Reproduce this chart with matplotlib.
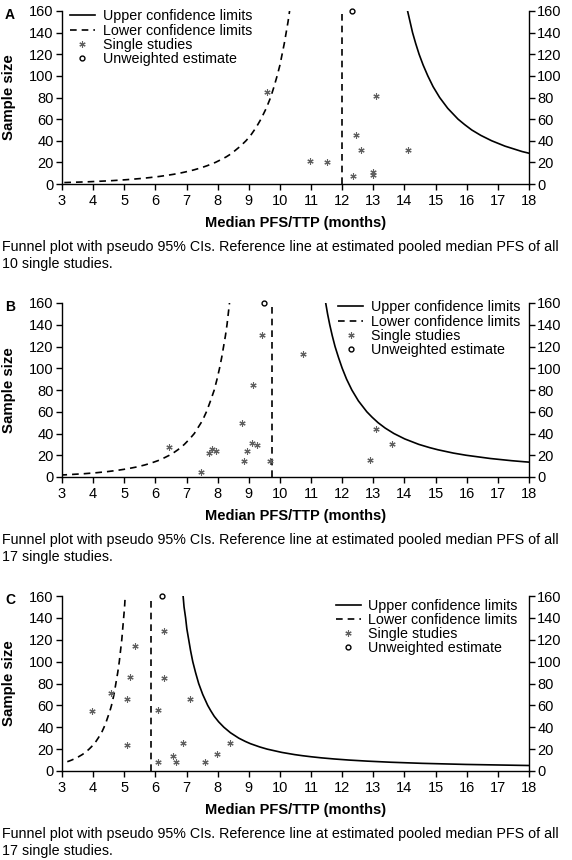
import matplotlib
matplotlib.use("Agg")
import matplotlib.pyplot as plt
from matplotlib.lines import Line2D

plt.rcParams['font.family'] = ['Liberation Sans', 'DejaVu Sans']

limit_n = [1, 2, 3, 4, 5, 6, 7, 8, 9, 10, 11, 12, 13, 14, 15, 17, 20, 22, 25, 27,
           30, 35, 40, 45, 50, 55, 60, 70, 80, 90, 100, 110, 120, 130, 140, 150, 160]

# Panel A (10 studies)
ref_a = 12.0
lower_a = [2.70, 3.81, 4.55, 5.08, 5.50, 5.84, 6.13, 6.37, 6.59, 6.78, 6.94, 7.09,
           7.23, 7.35, 7.47, 7.67, 7.93, 8.07, 8.27, 8.38, 8.52, 8.73, 8.91, 9.06,
           9.18, 9.29, 9.39, 9.56, 9.70, 9.81, 9.91, 10.00, 10.07, 10.14, 10.20,
           10.26, 10.31]
upper_a = [19.64, 19.15, 18.54, 18.21, 17.78, 17.23, 16.80, 16.45, 16.16, 15.93,
           15.72, 15.39, 15.13, 14.92, 14.75, 14.60, 14.47, 14.36, 14.26, 14.18, 14.10]
pfs_a = [9.6, 13.1, 12.45, 12.6, 14.1, 10.95, 11.5, 12.35, 13.0, 13.0]
size_a = [85, 81, 45, 31, 31, 21, 20, 7, 11, 8]
unweighted_a = (12.3, 160)

# Panel B (17 studies)
ref_b = 9.76
lower_b = [2.20, 3.10, 3.70, 4.13, 4.47, 4.75, 4.98, 5.18, 5.36, 5.51, 5.65, 5.77,
           5.88, 5.98, 6.08, 6.24, 6.45, 6.57, 6.72, 6.81, 6.93, 7.10, 7.25, 7.36,
           7.47, 7.56, 7.64, 7.77, 7.89, 7.98, 8.06, 8.13, 8.19, 8.25, 8.30, 8.34, 8.38]
upper_b = [18.89, 18.33, 17.85, 17.44, 16.76, 15.98, 15.57, 15.08, 14.81, 14.46,
           14.01, 13.66, 13.38, 13.15, 12.96, 12.79, 12.52, 12.31, 12.14, 12.00,
           11.88, 11.77, 11.68, 11.60, 11.53, 11.47]
pfs_b = [6.44, 7.45, 7.73, 7.83, 7.95, 8.77, 8.84, 8.94, 9.10, 9.26, 9.15,
         9.44, 9.68, 10.75, 13.07, 12.9, 13.6]
size_b = [28, 5, 22, 26, 24, 50, 15, 24, 31, 29, 85, 131, 15, 113, 44, 16, 30]
unweighted_b = (9.5, 160)

# Panel C (17 studies)
ref_c = 5.86
lower_c = [1.32, 1.86, 2.22, 2.48, 2.69, 2.85, 2.99, 3.11, 3.22, 3.31, 3.39, 3.46,
           3.53, 3.59, 3.65, 3.75, 3.87, 3.94, 4.04, 4.09, 4.16, 4.27, 4.35, 4.42,
           4.48, 4.54, 4.59, 4.67, 4.73, 4.79, 4.84, 4.88, 4.92, 4.95, 4.98, 5.01, 5.03]
upper_c = [21.51, 18.05, 15.97, 14.57, 13.57, 12.82, 12.22, 11.74, 11.34, 11.01,
           10.72, 10.47, 10.06, 9.59, 9.35, 9.05, 8.89, 8.68, 8.41, 8.20, 8.03, 7.89,
           7.78, 7.68, 7.52, 7.39, 7.29, 7.20, 7.13, 7.07, 7.01, 6.97, 6.92, 6.89]
pfs_c = [3.95, 4.57, 5.08, 5.17, 5.36, 5.08, 6.07, 6.07, 6.28, 6.28, 6.56,
         6.67, 6.88, 7.10, 7.59, 7.97, 8.39]
size_c = [55, 71, 66, 86, 114, 24, 56, 8, 128, 85, 14, 8, 26, 66, 8, 16, 26]
unweighted_c = (6.22, 160)

x_ticks = list(range(3, 19))
y_ticks = list(range(0, 161, 20))
xlabel = "Median PFS/TTP (months)"
caption_1 = "Funnel plot with pseudo 95% CIs. Reference line at estimated pooled median PFS of all"

W, H = 572, 860
fig = plt.figure(figsize=(W / 100, H / 100), dpi=100)

panels = [
    # letter, data, axes top px, axes bottom px, legend placement, n studies
    ("A", ref_a, lower_a, upper_a, pfs_a, size_a, unweighted_a, 11, 184,
     dict(loc="upper left", bbox_to_anchor=(0.017, 1.009)), 10),
    ("B", ref_b, lower_b, upper_b, pfs_b, size_b, unweighted_b, 303, 477,
     dict(loc="upper right", bbox_to_anchor=(0.982, 1.015)), 17),
    ("C", ref_c, lower_c, upper_c, pfs_c, size_c, unweighted_c, 596, 771,
     dict(loc="upper right", bbox_to_anchor=(0.976, 0.985)), 17),
]

left_px, right_px = 62, 529
dash = (4, 3)
star = dict(ls="none", marker=(6, 2, 0), ms=4.5, mew=0.8, color="#606060")
circ = dict(ls="none", marker="o", ms=3.5, mfc="none", mec="black", mew=1.0)

for letter, ref, lower, upper, pfs, size, unw, top_px, bot_px, leg, nstud in panels:
    ax = fig.add_axes([left_px / W, 1 - bot_px / H,
                       (right_px - left_px) / W, (bot_px - top_px) / H])

    ax.plot(upper, limit_n[-len(upper):], color="black", lw=1.2)
    ax.plot(lower, limit_n, color="black", lw=1.2, dashes=dash)
    ax.axvline(ref, color="black", lw=1.2, dashes=dash)
    ax.plot(pfs, size, **star)
    ax.plot([unw[0]], [unw[1]], clip_on=False, **circ)

    ax.set_xlim(3, 18)
    ax.set_ylim(0, 160)
    ax.set_xticks(x_ticks)
    ax.set_yticks(y_ticks)
    ax.spines["top"].set_visible(False)
    for s in ["left", "right", "bottom"]:
        ax.spines[s].set_linewidth(1.0)
    ax.tick_params(direction="out", length=4, width=1.0, labelsize=10.5, pad=2,
                   right=True, labelright=True)
    ax.tick_params(axis="x", pad=3.5)

    handles = [
        Line2D([], [], color="black", lw=1.2),
        Line2D([], [], color="black", lw=1.2, dashes=dash),
        Line2D([], [], **star),
        Line2D([], [], **circ),
    ]
    labels = ["Upper confidence limits", "Lower confidence limits",
              "Single studies", "Unweighted estimate"]
    ax.legend(handles, labels, frameon=False, fontsize=10.3, borderpad=0,
              borderaxespad=0, labelspacing=0.02, handlelength=1.75,
              handletextpad=0.55, **leg)

    fig.text(10 / W, 1 - (top_px + 4) / H, letter, fontsize=10, fontweight="bold",
             ha="center", va="center")
    fig.text(9 / W, 1 - (top_px + bot_px) / 2 / H, "Sample size", fontsize=10.8,
             fontweight="bold", rotation=90, ha="center", va="center")
    fig.text((left_px + right_px) / 2 / W, 1 - (bot_px + 39) / H, xlabel,
             fontsize=10.5, fontweight="bold", ha="center", va="center")
    fig.text(2 / W, 1 - (bot_px + 63) / H, caption_1, fontsize=10.3,
             ha="left", va="center")
    fig.text(2 / W, 1 - (bot_px + 80) / H, "%d single studies." % nstud,
             fontsize=10.3, ha="left", va="center")

fig.savefig("out.png", dpi=100)
